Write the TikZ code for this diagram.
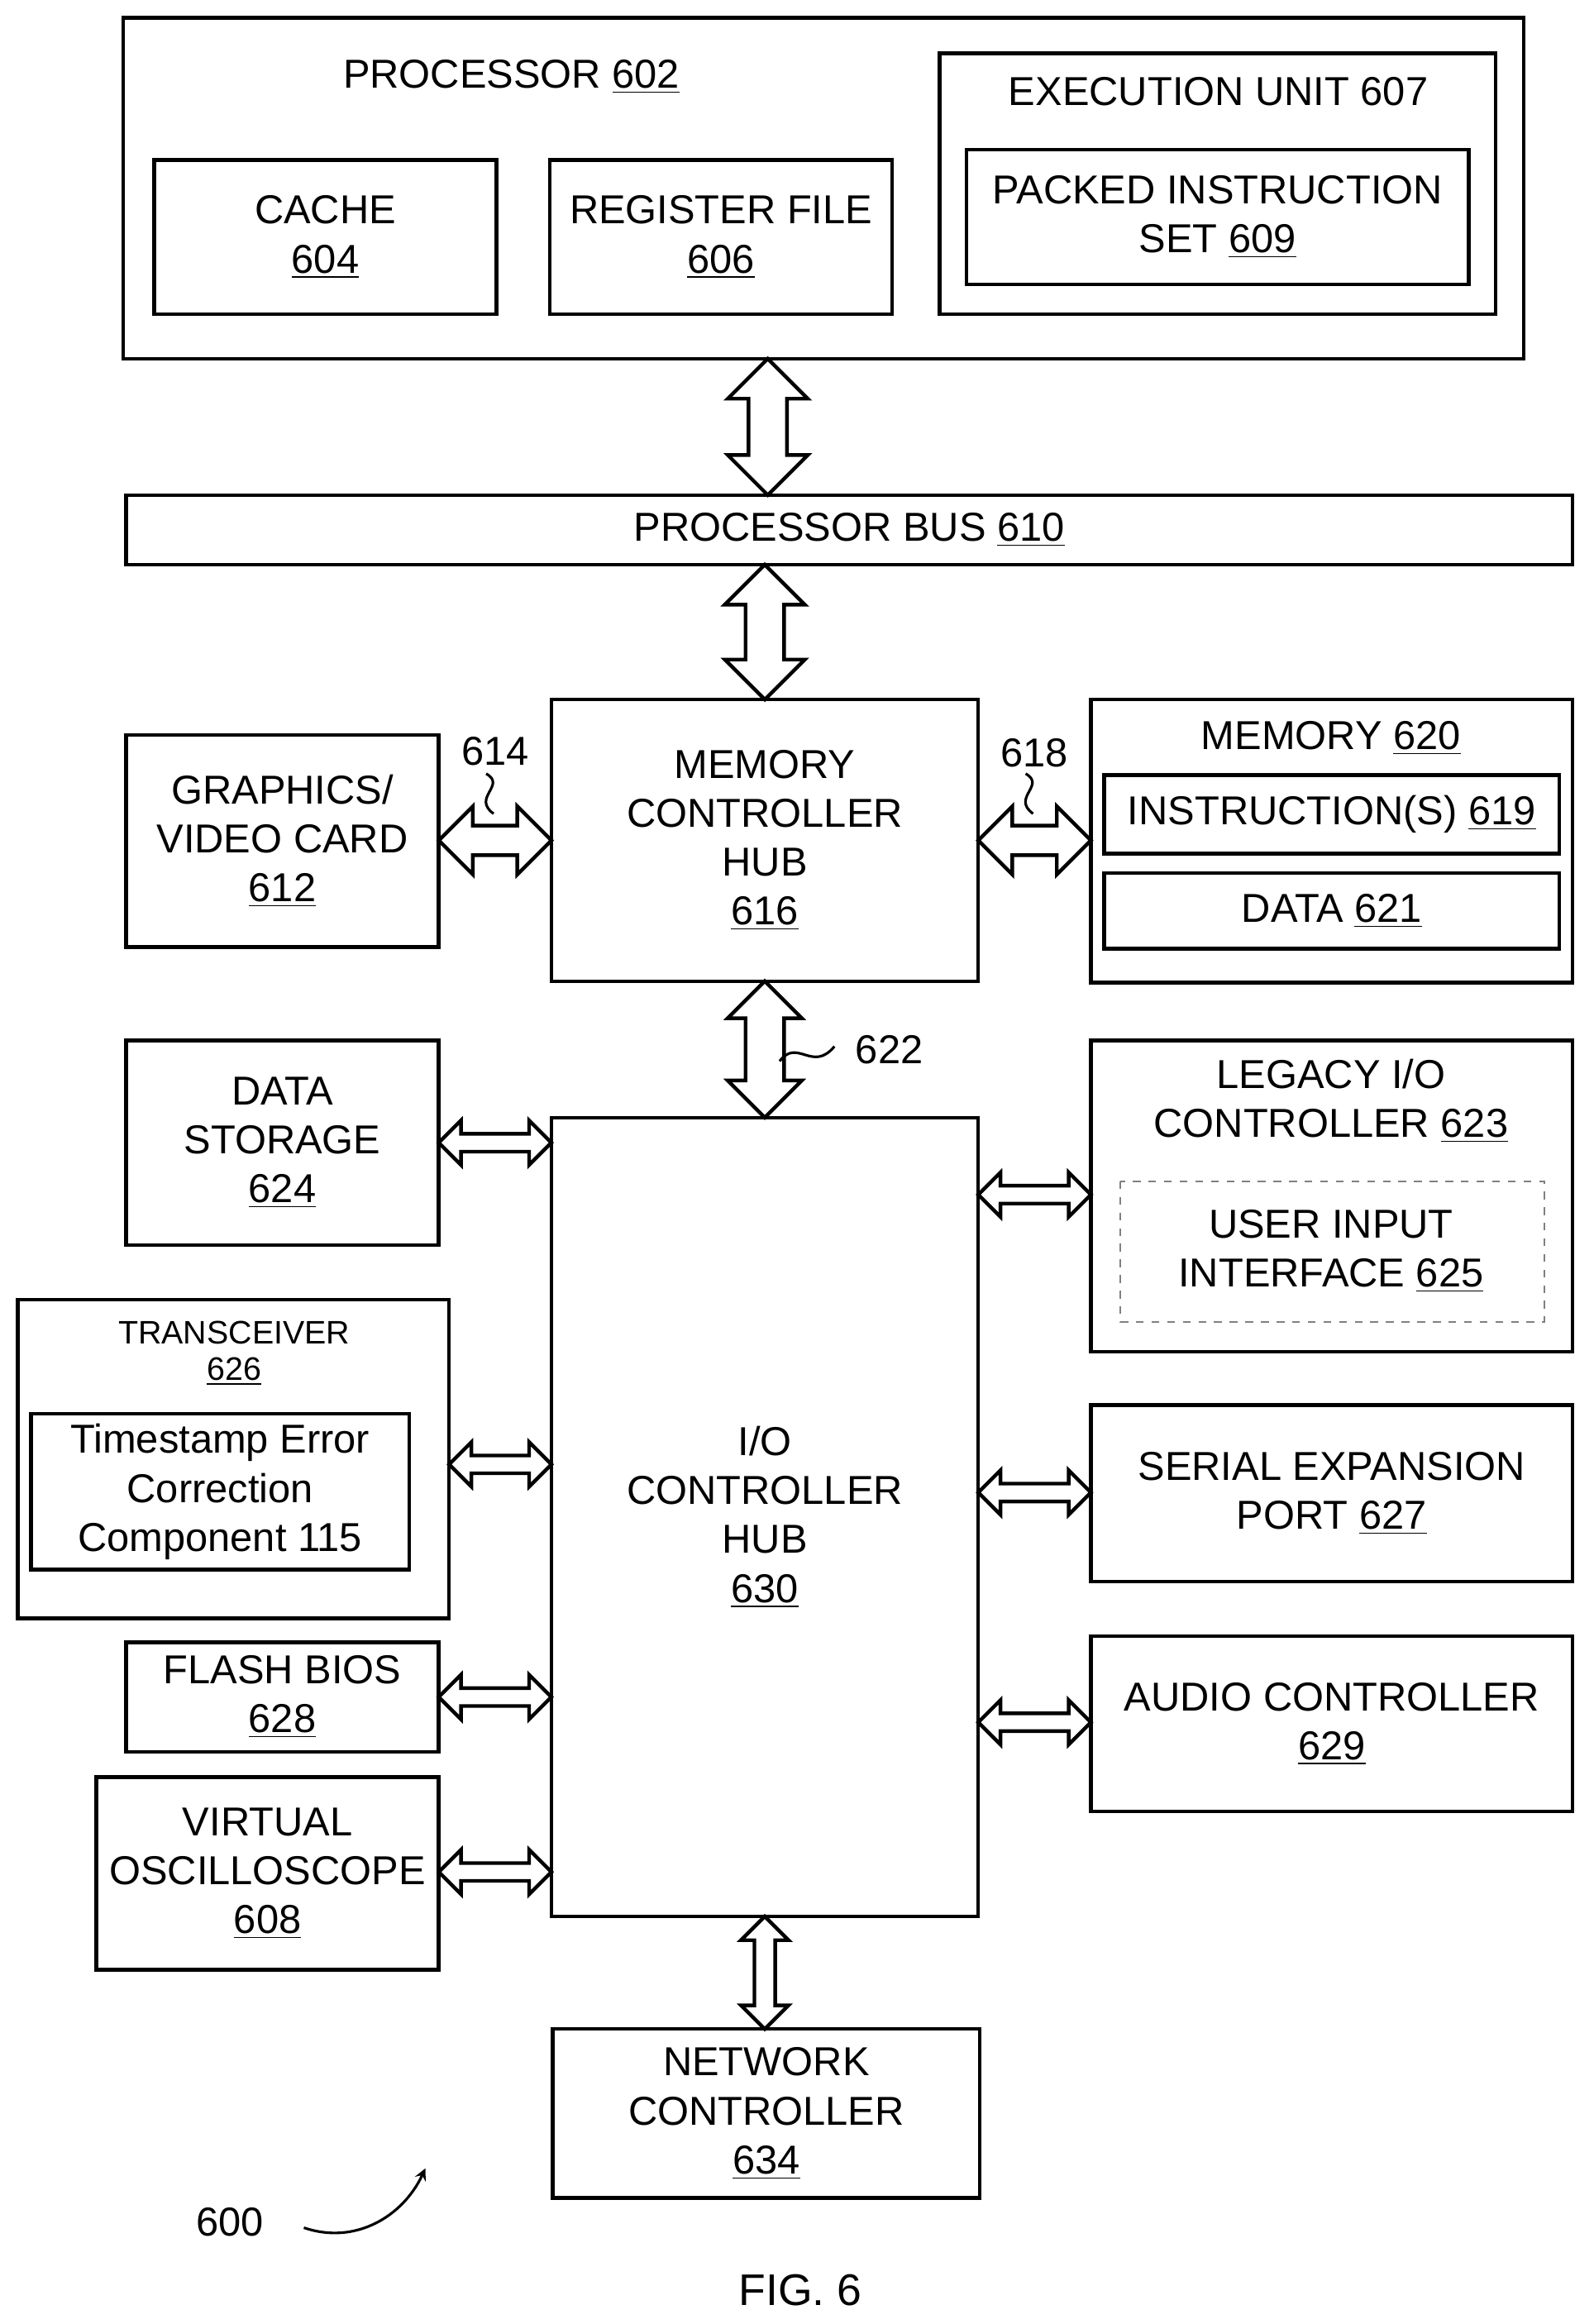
\documentclass[tikz,border=0pt]{standalone}
\usepackage{fontspec}
\setmainfont{Liberation Sans}
\tikzset{
  box/.style={draw, line width=1.4pt, inner sep=0pt, align=center},
  lbl/.style={align=center, inner sep=0pt, font=\fontsize{15.5pt}{18.8pt}\selectfont},
  fat/.style={draw, line width=1.4pt, fill=white, line join=miter}
}
% box from corner to corner, in picture units
\newcommand\blk[6]{\node[box, lbl, minimum width={(#4-#2)*0.02cm}, minimum height={(#5-#3)*0.02cm}] (#1) at ({(#2+#4)/2},{(#3+#5)/2}) {#6};}
% hollow double arrow, horizontal: x1 x2 y shaft head
\newcommand\hfat[5]{\draw[fat] (#1,#3) -- (#1+#5,#3-#5) -- (#1+#5,#3-#4) -- (#2-#5,#3-#4) -- (#2-#5,#3-#5) -- (#2,#3) -- (#2-#5,#3+#5) -- (#2-#5,#3+#4) -- (#1+#5,#3+#4) -- (#1+#5,#3+#5) -- cycle;}
% vertical: y1 y2 x shaft head
\newcommand\vfat[5]{\draw[fat] (#3,#1) -- (#3-#5,#1+#5) -- (#3-#4,#1+#5) -- (#3-#4,#2-#5) -- (#3-#5,#2-#5) -- (#3,#2) -- (#3+#5,#2-#5) -- (#3+#4,#2-#5) -- (#3+#4,#1+#5) -- (#3+#5,#1+#5) -- cycle;}
\begin{document}
\begin{tikzpicture}[x=0.02cm, y=-0.02cm]
\useasboundingbox (0,0) rectangle (1075,1568);
% processor
\blk{proc}{83}{12}{1028}{242}{}
\node[lbl] (proct) at (345,52) {PROCESSOR \underline{602}};
\blk{cache}{104}{108}{335}{212}{CACHE\\\underline{604}}
\blk{reg}{371}{108}{602}{212}{REGISTER FILE\\\underline{606}}
\blk{exec}{634}{36}{1009}{212}{}
\node[lbl] (exect) at (822,62) {EXECUTION UNIT 607};
\blk{packed}{652}{101}{991}{192}{PACKED INSTRUCTION\\SET \underline{609}}
\blk{bus}{85}{334}{1061}{381}{PROCESSOR BUS \underline{610}}
\vfat{242}{334}{518}{13}{27}
\vfat{381}{472}{516}{13}{27}
% memory controller hub
\blk{mch}{372}{472}{660}{662}{MEMORY\\CONTROLLER\\HUB\\\underline{616}}
\blk{gfx}{85}{496}{296}{639}{GRAPHICS/\\VIDEO CARD\\\underline{612}}
\hfat{296}{372}{567}{10}{23}
\node[lbl] (l614) at (334,507) {614};
\draw[line width=1pt] (328,522) .. controls (342,530) and (318,538) .. (333,549);
\blk{mem}{736}{472}{1061}{663}{}
\node[lbl] (memt) at (898,498) {MEMORY \underline{620}};
\blk{instr}{745}{523}{1052}{576}{INSTRUCTION(S) \underline{619}}
\blk{data}{745}{589}{1052}{640}{DATA \underline{621}}
\hfat{660}{736}{567}{10}{23}
\node[lbl] (l618) at (698,508) {618};
\draw[line width=1pt] (692,522) .. controls (706,530) and (682,538) .. (697,549);
\vfat{662}{754}{516}{13}{25}
\node[lbl] (l622) at (600,708) {622};
\draw[line width=1pt] (526,716) .. controls (538,700) and (548,724) .. (563,706);
% i/o controller hub
\blk{ich}{372}{754}{660}{1293}{I/O\\CONTROLLER\\HUB\\\underline{630}}
\blk{stor}{85}{702}{296}{840}{DATA\\STORAGE\\\underline{624}}
\hfat{296}{372}{771}{6}{15}
\blk{trx}{12}{877}{303}{1092}{}
\node[lbl, font=\fontsize{12.5pt}{14pt}\selectfont] (trxt) at (158,913) {TRANSCEIVER\\\underline{626}};
\blk{tec}{21}{954}{276}{1059}{Timestamp Error\\Correction\\Component 115}
\hfat{303}{372}{988}{6}{15}
\blk{flash}{85}{1108}{296}{1182}{FLASH BIOS\\\underline{628}}
\hfat{296}{372}{1145}{6}{15}
\blk{osc}{65}{1199}{296}{1329}{VIRTUAL\\OSCILLOSCOPE\\\underline{608}}
\hfat{296}{372}{1263}{6}{15}
\blk{legacy}{736}{702}{1061}{912}{}
\node[lbl] (legt) at (898,743) {LEGACY I/O\\CONTROLLER \underline{623}};
\draw[gray, dashed, line width=0.6pt] (756,797) rectangle (1042,892);
\node[lbl] (uii) at (898,844) {USER INPUT\\INTERFACE \underline{625}};
\hfat{660}{736}{806}{6}{15}
\blk{serial}{736}{948}{1061}{1067}{SERIAL EXPANSION\\PORT \underline{627}}
\hfat{660}{736}{1007}{6}{15}
\blk{audio}{736}{1104}{1061}{1222}{AUDIO CONTROLLER\\\underline{629}}
\hfat{660}{736}{1162}{6}{15}
\blk{net}{373}{1369}{661}{1483}{NETWORK\\CONTROLLER\\\underline{634}}
\vfat{1293}{1369}{516}{7}{16}
% reference numeral and figure label
\node[lbl] (l600) at (155,1499) {600};
\draw[line width=1pt, -stealth] (205,1503) .. controls (240,1515) and (272,1495) .. (287,1463);
\node[lbl, font=\fontsize{17pt}{20pt}\selectfont] (fig) at (540,1545) {FIG. 6};
\end{tikzpicture}
\end{document}
